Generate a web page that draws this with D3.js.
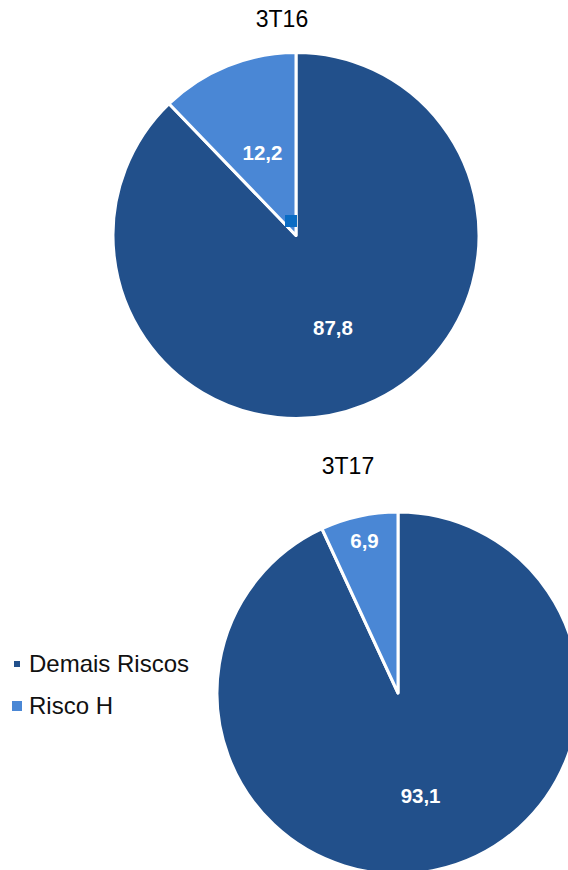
<!DOCTYPE html>
<html><head><meta charset="utf-8">
<script src="https://cdn.jsdelivr.net/npm/d3@7"></script>
<style>body{margin:0;background:#fff}svg{display:block;font-family:"Liberation Sans",Arial,sans-serif}</style>
</head><body>
<svg id="c" width="568" height="870"></svg>
<script>
const categories = ["Demais Riscos", "Risco H"];
const periods = ["3T16", "3T17"];
const values3T16 = [87.8, 12.2];
const values3T17 = [93.1, 6.9];
const colors = ["#22508B", "#4A87D5"];

const svg = d3.select("#c");
const fmt = v => v.toFixed(1).replace(".", ",");
const pie = d3.pie().sort(null).value(d => d);

const charts = [
  {title: periods[0], values: values3T16, cx: 296, cy: 235.5, r: 183, tx: 282, ty: 27, lr: [0.54, 0.49]},
  {title: periods[1], values: values3T17, cx: 398, cy: 693, r: 181, tx: 348, ty: 474, lr: [0.58, 0.86]}
];

charts.forEach(ch => {
  const g = svg.append("g").attr("transform", `translate(${ch.cx},${ch.cy})`);
  const arcs = pie(ch.values);
  const arc = d3.arc().innerRadius(0).outerRadius(ch.r);
  g.selectAll("path").data(arcs).enter().append("path")
    .attr("d", arc).attr("fill", (d, i) => colors[i])
    .attr("stroke", "#fff").attr("stroke-width", 3).attr("stroke-linejoin", "round");
  g.selectAll("text").data(arcs).enter().append("text")
    .attr("transform", (d, i) => {
      const a = (d.startAngle + d.endAngle) / 2, rr = ch.r * ch.lr[i];
      return `translate(${Math.sin(a) * rr},${-Math.cos(a) * rr})`;
    })
    .attr("text-anchor", "middle").attr("dy", "0.36em")
    .attr("fill", "#fff").attr("font-weight", "bold").attr("font-size", 20.5)
    .text(d => fmt(d.value));
  svg.append("text").attr("x", ch.tx).attr("y", ch.ty).attr("text-anchor", "middle")
    .attr("font-size", 23).attr("fill", "#000").text(ch.title);
});

// small selection marker in first pie
svg.append("rect").attr("x", 285).attr("y", 215).attr("width", 12).attr("height", 12).attr("fill", "#0A6CC4");

// legend
const leg = [{y: 664, s: 6}, {y: 706, s: 10}];
categories.forEach((c, i) => {
  svg.append("rect").attr("x", 17 - leg[i].s / 2).attr("y", leg[i].y - leg[i].s / 2)
    .attr("width", leg[i].s).attr("height", leg[i].s).attr("fill", colors[i]);
  svg.append("text").attr("x", 29).attr("y", leg[i].y + 8).attr("font-size", 24)
    .attr("fill", "#111").text(c);
});
</script>
</body></html>
